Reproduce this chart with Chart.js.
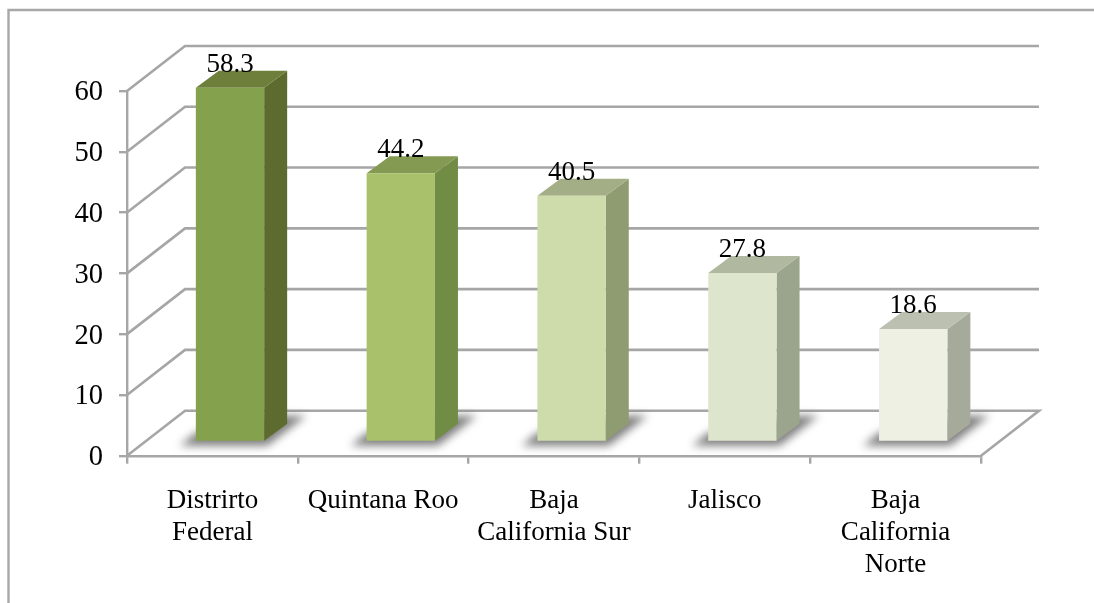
<!DOCTYPE html>
<html>
<head>
<meta charset="utf-8">
<style>
html,body{margin:0;padding:0;background:#fff;overflow:hidden}
#wrap{position:relative;width:1094px;height:603px}
canvas{display:block}
</style>
<script src="https://cdn.jsdelivr.net/npm/chart.js@4/dist/chart.umd.min.js"></script>
</head>
<body>
<div id="wrap"><canvas id="c" width="1094" height="603"></canvas></div>
<script>
const categories = [["Distrirto","Federal"],["Quintana Roo"],["Baja","California Sur"],["Jalisco"],["Baja","California","Norte"]];
const values = [58.3,44.2,40.5,27.8,18.6];
const frontColors = ["#84a14e","#a9c16b","#cddcaa","#dde6cc","#eef0e4"];
const sideColors = ["#5d6b2e","#708c45","#8f9b71","#9ba48c","#a6aa9a"];
const topColors = ["#6e7f3c","#849a52","#a3ae86","#b1b8a0","#bcc0b1"];

const GRID = "#a6a6a6";
const FONT = "Liberation Serif";
const FS = 27;
const FS_Y = 28.5;
const WALL = {dx:58, dy:-45};
const BAR_SHIFT = {dx:17.6, dy:-13.7};
const DEPTH = {dx:23, dy:-17};

const scene = {
  id:"scene",
  beforeDraw(chart){
    const {ctx,scales:{x,y}} = chart;
    ctx.save();
    ctx.strokeStyle = "#a8a8a8"; ctx.lineWidth = 2.4;
    ctx.beginPath(); ctx.moveTo(8.5,603); ctx.lineTo(8.5,10); ctx.lineTo(1094,10); ctx.stroke();
    ctx.strokeStyle = GRID; ctx.lineWidth = 2.6;
    y.ticks.forEach(t=>{
      const p = y.getPixelForValue(t.value);
      ctx.beginPath();
      ctx.moveTo(x.left,p);
      ctx.lineTo(x.left+WALL.dx,p+WALL.dy);
      ctx.lineTo(x.right+WALL.dx,p+WALL.dy);
      if(t.value===0) ctx.lineTo(x.right,p);
      ctx.stroke();
    });
    ctx.restore();
  },
  beforeDatasetsDraw(chart){
    const {ctx} = chart;
    const bars = chart.getDatasetMeta(0).data;
    ctx.save();
    ctx.translate(BAR_SHIFT.dx,BAR_SHIFT.dy);
    bars.forEach(b=>{
      const l=b.x-b.width/2, r=b.x+b.width/2, base=b.base;
      ctx.save();
      ctx.filter="blur(4px)";
      ctx.fillStyle="rgba(105,105,105,0.85)";
      ctx.beginPath();
      ctx.moveTo(l-16,base+5);
      ctx.lineTo(r+3,base+5);
      ctx.lineTo(r+42,base-25);
      ctx.lineTo(r+8,base-25);
      ctx.lineTo(l,base-8);
      ctx.closePath();
      ctx.fill();
      ctx.restore();
    });
    bars.forEach((b,i)=>{
      const l=b.x-b.width/2, r=b.x+b.width/2, t=b.y, base=b.base;
      ctx.fillStyle=sideColors[i];
      ctx.beginPath();
      ctx.moveTo(r,t); ctx.lineTo(r+DEPTH.dx,t+DEPTH.dy);
      ctx.lineTo(r+DEPTH.dx,base+DEPTH.dy); ctx.lineTo(r,base);
      ctx.closePath(); ctx.fill();
      ctx.fillStyle=topColors[i];
      ctx.beginPath();
      ctx.moveTo(l,t); ctx.lineTo(l+DEPTH.dx,t+DEPTH.dy);
      ctx.lineTo(r+DEPTH.dx,t+DEPTH.dy); ctx.lineTo(r,t);
      ctx.closePath(); ctx.fill();
    });
  },
  afterDatasetsDraw(chart){
    const {ctx} = chart;
    const bars = chart.getDatasetMeta(0).data;
    ctx.font = FS+"px '"+FONT+"'";
    ctx.fillStyle="#000";
    ctx.textAlign="center";
    ctx.textBaseline="alphabetic";
    bars.forEach((b,i)=>{
      ctx.fillText(values[i].toFixed(1), b.x, b.y+DEPTH.dy+1);
    });
    ctx.restore();
  }
};

new Chart(document.getElementById("c"),{
  type:"bar",
  data:{labels:categories,datasets:[{
    data:values,
    backgroundColor:frontColors,
    borderWidth:0,
    barPercentage:0.4,
    categoryPercentage:1
  }]},
  options:{
    responsive:false,
    animation:false,
    layout:{padding:{left:0,right:113,top:91,bottom:0}},
    plugins:{legend:{display:false},tooltip:{enabled:false}},
    scales:{
      y:{
        min:0,max:60,
        afterFit(s){s.width=127;},
        ticks:{stepSize:10,color:"#000",padding:16,labelOffset:2,font:{family:FONT,size:FS_Y}},
        grid:{drawOnChartArea:false,drawTicks:true,tickLength:8,color:GRID,lineWidth:2.4},
        border:{color:GRID,width:2.4}
      },
      x:{
        afterFit(s){s.height=147.3;},
        ticks:{color:"#000",padding:21,maxRotation:0,autoSkip:false,font:{family:FONT,size:FS,lineHeight:1.19}},
        grid:{drawOnChartArea:false,drawTicks:true,tickLength:8,color:GRID,lineWidth:2.4,offset:true},
        border:{color:GRID,width:2.4}
      }
    }
  },
  plugins:[scene]
});
</script>
</body>
</html>
